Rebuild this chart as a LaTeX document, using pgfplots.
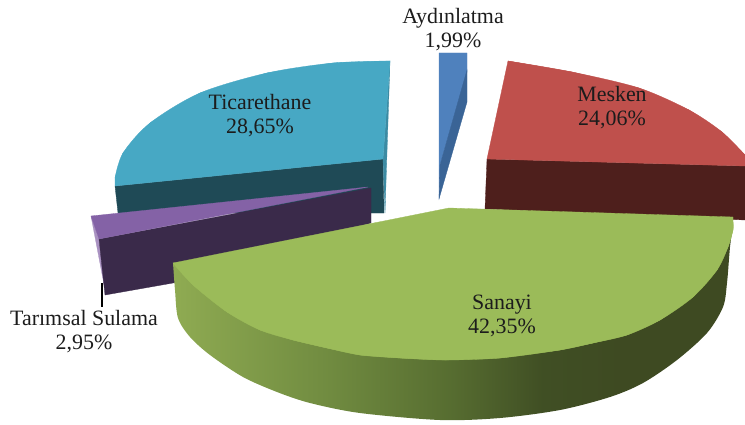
\documentclass[border=0pt]{standalone}
\usepackage{pgfplots}
\pgfplotsset{compat=1.18}
\usepackage{fontspec}
\setmainfont{Liberation Serif}
\definecolor{gA}{HTML}{8FAB52}
\definecolor{gB}{HTML}{708B40}
\definecolor{gC}{HTML}{566C30}
\definecolor{gD}{HTML}{404F24}
\definecolor{gE}{HTML}{3E4A22}
\definecolor{cGreen}{HTML}{9BBB59}
\definecolor{cRed}{HTML}{BF504C}
\definecolor{cRedD}{HTML}{4E1F1C}
\definecolor{cTeal}{HTML}{47A8C4}
\definecolor{cTealD}{HTML}{1F4A56}
\definecolor{cTealM}{HTML}{3C8BA3}
\definecolor{cBlue}{HTML}{4F81BD}
\definecolor{cBlueD}{HTML}{3A6496}
\definecolor{cPurple}{HTML}{8462A6}
\definecolor{cPurpleD}{HTML}{3A2A4A}
\definecolor{txt}{HTML}{1C1C1C}
\pgfdeclarehorizontalshading{greenside}{100bp}{color(0bp)=(gA);color(25bp)=(gA);color(39bp)=(gB);color(50bp)=(gC);color(58bp)=(gD);color(65bp)=(gE);color(100bp)=(gE)}
\tikzset{lbl/.style={align=center, text=txt, font=\fontsize{22}{24}\selectfont}}
\begin{document}
\begin{tikzpicture}
\begin{axis}[hide axis, scale only axis, width=745bp, height=425bp,
  xmin=0, xmax=745, ymin=0, ymax=425, y dir=reverse,
  every axis plot/.append style={no marks, line width=0.3pt}]
\path (axis cs:0,0) rectangle (axis cs:745,425);
% Ticarethane
\addplot[fill=cTealD, draw=cTealD] coordinates {(115,186) (383,159) (384,213) (118,213)} --cycle;
\addplot[fill=cTealM, draw=cTealM] coordinates {(390,61) (383,159) (385,213)} --cycle;
\addplot[fill=cTeal, draw=cTeal, smooth] coordinates {(390,61) (333,63) (267,73) (200,93) (150,123) (123,153) (115,178)};
\addplot[fill=cTeal, draw=cTeal] coordinates {(390,61) (333,63) (267,73) (200,93) (150,123) (123,153) (115,178) (115,186) (383,159)} --cycle;
% Aydinlatma
\addplot[fill=cBlue, draw=cBlue] coordinates {(439,53) (467,53) (467,72) (440,165) (439,199)} --cycle;
\addplot[fill=cBlueD, draw=cBlueD] coordinates {(467,70) (467,102) (439,199) (440,165)} --cycle;
% Mesken
\addplot[fill=cRedD, draw=cRedD] coordinates {(487,159) (745,166) (745,220) (485,209)} --cycle;
\addplot[fill=cRed, draw=cRed, smooth] coordinates {(508,61) (572,72) (639,88) (689,110) (722,132) (745,155)};
\addplot[fill=cRed, draw=cRed] coordinates {(508,61) (572,72) (639,88) (689,110) (722,132) (745,155) (745,166) (487,159)} --cycle;
% Tarimsal Sulama
\addplot[fill=cPurple!70!white, draw=cPurple!70!white] coordinates {(91,216) (99,239) (106,295)} --cycle;
\addplot[fill=cPurpleD, draw=cPurpleD] coordinates {(99,239) (371,188) (371,223) (173,283) (105,295)} --cycle;
\addplot[fill=cPurple, draw=cPurple] coordinates {(91,216) (368,187) (99,239)} --cycle;
% Sanayi side
\addplot[shade, shading=greenside, draw=none, smooth] coordinates {(173,263) (175,290) (178,318) (190,337) (210,355) (243,377) (277,392) (310,403) (360,413) (440,420) (500,418) (560,410) (610,397) (643,383) (677,360) (707,333) (723,307) (727,283) (730,247) (733,225)};
% Sanayi top
\addplot[fill=cGreen, draw=cGreen, smooth] coordinates {(733,222) (733,230) (728,247) (717,270) (693,297) (660,320) (627,335) (593,343) (560,350) (500,358) (445,360) (400,358) (360,355) (327,348) (293,340) (260,330) (227,312) (193,285) (173,263)};
\addplot[fill=cGreen, draw=cGreen] coordinates {(449,208) (733,217) (733,222) (733,230) (728,247) (717,270) (693,297) (660,320) (627,335) (593,343) (560,350) (500,358) (445,360) (400,358) (360,355) (327,348) (293,340) (260,330) (227,312) (193,285) (173,263)} --cycle;
% leader
\addplot[draw=black, line width=1.1pt] coordinates {(102,283) (102,307)};
% labels
\node[lbl] at (axis cs:453,29.5) {Aydınlatma\\1,99\%};
\node[lbl] at (axis cs:612,108) {Mesken\\24,06\%};
\node[lbl] at (axis cs:260,115.5) {Ticarethane\\28,65\%};
\node[lbl] at (axis cs:502,316) {Sanayi\\42,35\%};
\node[lbl] at (axis cs:84,332) {Tarımsal Sulama\\2,95\%};
\end{axis}
\end{tikzpicture}
\end{document}
